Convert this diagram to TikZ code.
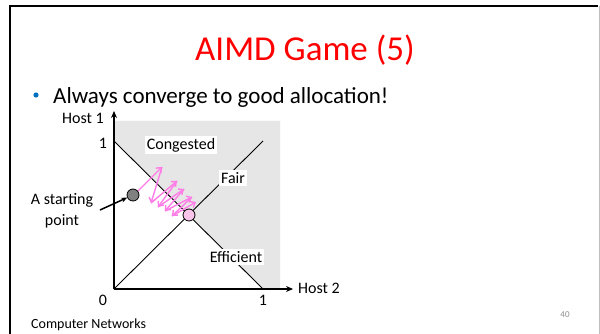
\documentclass[tikz,border=0pt]{standalone}
\usepackage{fontspec}
\setmainfont{Carlito}
\usetikzlibrary{arrows.meta}
\definecolor{titlered}{RGB}{255,0,0}
\definecolor{bulletblue}{RGB}{0,112,192}
\definecolor{regiongray}{RGB}{230,230,230}
\definecolor{zigpink}{RGB}{255,125,230}
\definecolor{dotpink}{RGB}{248,196,234}
\definecolor{dotgray}{RGB}{128,128,128}
\definecolor{footgray}{RGB}{140,140,140}
\tikzset{
  lbl/.style={font=\fontsize{16}{19}\selectfont, inner sep=0pt},
  boxlbl/.style={font=\fontsize{16}{19}\selectfont, fill=white, inner sep=2pt},
  axis/.style={line width=1.8pt, -{Stealth[length=7pt,width=6pt]}},
  thinline/.style={line width=0.9pt},
  zig/.style={zigpink, line width=1.4pt, -{Straight Barb[length=4pt,width=7pt]}},
  ptr/.style={line width=1.5pt, -{Stealth[length=6pt,width=5pt]}},
  dot/.style={circle, draw=black, line width=0.8pt, minimum size=12pt, inner sep=0pt}
}
\begin{document}
\begin{tikzpicture}[x=1pt,y=-1pt]
\useasboundingbox (0,0) rectangle (600,334);
\fill[white] (0,0) rectangle (600,334);
% slide frame
\draw[line width=2.5pt] (10,340) -- (10,6) -- (598,6);
\draw[line width=0.8pt, gray!50] (599,6) -- (599,340);
% title
\node[titlered, font=\fontsize{35}{40}\selectfont, anchor=base, inner sep=0pt] (title) at (305,61) {AIMD Game (5)};
% bullet
\fill[bulletblue] (36,95) circle (2.6pt);
\node[font=\fontsize{23}{27}\selectfont, anchor=base west, inner sep=0pt] (bullet) at (53,104) {Always converge to good allocation!};
% shaded region
\coordinate (O) at (114,289);
\coordinate (Y1) at (114,141);
\coordinate (X1) at (263,289);
\coordinate (D1) at (263,141);
\fill[regiongray] (Y1) -- (114,121) -- (280,121) -- (280,289) -- (X1) -- cycle;
% efficiency and fairness lines
\draw[thinline] (Y1) -- (X1);
\draw[thinline] (O) -- (D1);
% axes
\coordinate (Ytop) at (114,111);
\coordinate (Xend) at (293,289);
\draw[axis] (O) -- (Ytop);
\draw[axis] (O) -- (Xend);
\node[lbl, anchor=east] (host1) at (104,118) {Host 1};
\node[lbl, anchor=west] (host2) at (298,288) {Host 2};
\node[lbl] (zero) at (103,300) {0};
\node[lbl] (onex) at (263,300) {1};
\node[lbl] (oney) at (103,143) {1};
% region labels
\node[boxlbl] (cong) at (181,145) {Congested};
\node[boxlbl] (fair) at (233,178) {Fair};
\node[boxlbl] (eff) at (236,257) {Efficient};
% zigzag
\coordinate (P0) at (136,193);
\coordinate (T1) at (162,167);
\coordinate (B1) at (151,203);
\coordinate (T2) at (177,181);
\coordinate (B2) at (158,207);
\coordinate (T3) at (184,189);
\coordinate (B3) at (165,211);
\coordinate (T4) at (192,197);
\coordinate (B4) at (172,216);
\coordinate (T5) at (196,202);
\draw[zig] (P0) -- (T1);
\draw[zig] (T1) -- (B1);
\draw[zig] (B1) -- (T2);
\draw[zig] (T2) -- (B2);
\draw[zig] (B2) -- (T3);
\draw[zig] (T3) -- (B3);
\draw[zig] (B3) -- (T4);
\draw[zig] (T4) -- (B4);
\draw[zig] (B4) -- (T5);
% points
\node[dot, fill=dotgray] (start) at (133,195) {};
\node[dot, fill=dotpink] (goal) at (189,215) {};
% starting point label
\node[lbl, align=center, font=\fontsize{16}{21}\selectfont] (startlbl) at (62,211) {A starting\\point};
\coordinate (ptrfrom) at (100,210);
\draw[ptr] (ptrfrom) -- (start);
% footer
\node[font=\fontsize{14}{16}\selectfont, anchor=west, inner sep=0pt] (footer) at (31,325) {Computer Networks};
\node[footgray, font=\fontsize{9}{11}\selectfont, inner sep=0pt] (pagenum) at (565,315) {40};
\end{tikzpicture}
\end{document}
